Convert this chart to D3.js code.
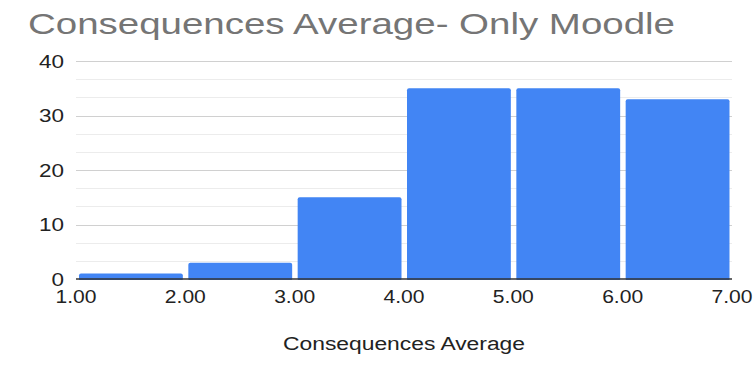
<!DOCTYPE html>
<html>
<head>
<meta charset="utf-8">
<script src="https://cdn.jsdelivr.net/npm/d3@7"></script>
<style>
  body { margin: 0; background: #fff; }
  text { font-family: Arial, "Liberation Sans", sans-serif; }
</style>
</head>
<body>
<svg id="chart" width="754" height="370"></svg>
<script>
'use strict';

// histogram bins (lower edge) and their counts
const binStarts = [1, 2, 3, 4, 5, 6];
const binWidth = 1;
const counts = [1, 3, 15, 35, 35, 33];
const xTicks = [1, 2, 3, 4, 5, 6, 7];
const yTicks = [0, 10, 20, 30, 40];
const yMinor = [10 / 3, 20 / 3, 40 / 3, 50 / 3, 70 / 3, 80 / 3, 100 / 3, 110 / 3];

const svg = d3.select('#chart');

// plot area
const plotLeft = 76, plotRight = 732, plotTop = 61, plotBottom = 279;

const x = d3.scaleLinear().domain([1, 7]).range([plotLeft, plotRight]);
const y = d3.scaleLinear().domain([0, 40]).range([plotBottom, plotTop]);

// minor gridlines
svg.append('g')
  .selectAll('line')
  .data(yMinor)
  .join('line')
  .attr('x1', plotLeft).attr('x2', plotRight)
  .attr('y1', d => Math.round(y(d)) + 0.5)
  .attr('y2', d => Math.round(y(d)) + 0.5)
  .attr('stroke', '#ececec');

// major gridlines
svg.append('g')
  .selectAll('line')
  .data(yTicks.filter(d => d > 0))
  .join('line')
  .attr('x1', plotLeft).attr('x2', plotRight)
  .attr('y1', d => Math.round(y(d)) + 0.5)
  .attr('y2', d => Math.round(y(d)) + 0.5)
  .attr('stroke', '#d0d0d0');

// bars
svg.append('g')
  .selectAll('rect')
  .data(binStarts)
  .join('rect')
  .attr('x', d => x(d) + 3)
  .attr('width', d => x(d + binWidth) - x(d) - 5.5)
  .attr('y', (d, i) => y(counts[i]))
  .attr('height', (d, i) => y(0) - y(counts[i]) + 2)
  .attr('rx', 2)
  .attr('fill', '#4285f4');

// white cover under baseline so bar bottoms stay square
svg.append('rect')
  .attr('x', plotLeft - 2).attr('y', plotBottom + 1)
  .attr('width', plotRight - plotLeft + 4).attr('height', 4)
  .attr('fill', '#fff');

// baseline
svg.append('line')
  .attr('x1', plotLeft).attr('x2', plotRight)
  .attr('y1', plotBottom).attr('y2', plotBottom)
  .attr('stroke', '#333').attr('stroke-width', 1.5);

// y tick labels
svg.append('g')
  .selectAll('text')
  .data(yTicks)
  .join('text')
  .attr('x', 64)
  .attr('y', d => y(d) + 6.5)
  .attr('text-anchor', 'end')
  .attr('font-size', 18)
  .attr('fill', '#222')
  .attr('textLength', d => String(d).length * 12.5)
  .attr('lengthAdjust', 'spacingAndGlyphs')
  .text(d => d);

// x tick labels
svg.append('g')
  .selectAll('text')
  .data(xTicks)
  .join('text')
  .attr('x', d => x(d) - 20.5)
  .attr('y', 303)
  .attr('font-size', 18)
  .attr('fill', '#222')
  .attr('textLength', 41)
  .attr('lengthAdjust', 'spacingAndGlyphs')
  .text(d => d3.format('.2f')(d));

// x axis title
svg.append('text')
  .attr('x', 283)
  .attr('y', 350)
  .attr('font-size', 18)
  .attr('fill', '#222')
  .attr('textLength', 242)
  .attr('lengthAdjust', 'spacingAndGlyphs')
  .text('Consequences Average');

// chart title
svg.append('text')
  .attr('x', 28)
  .attr('y', 34)
  .attr('font-size', 30)
  .attr('fill', '#757575')
  .attr('textLength', 647)
  .attr('lengthAdjust', 'spacingAndGlyphs')
  .text('Consequences Average- Only Moodle');
</script>
</body>
</html>
